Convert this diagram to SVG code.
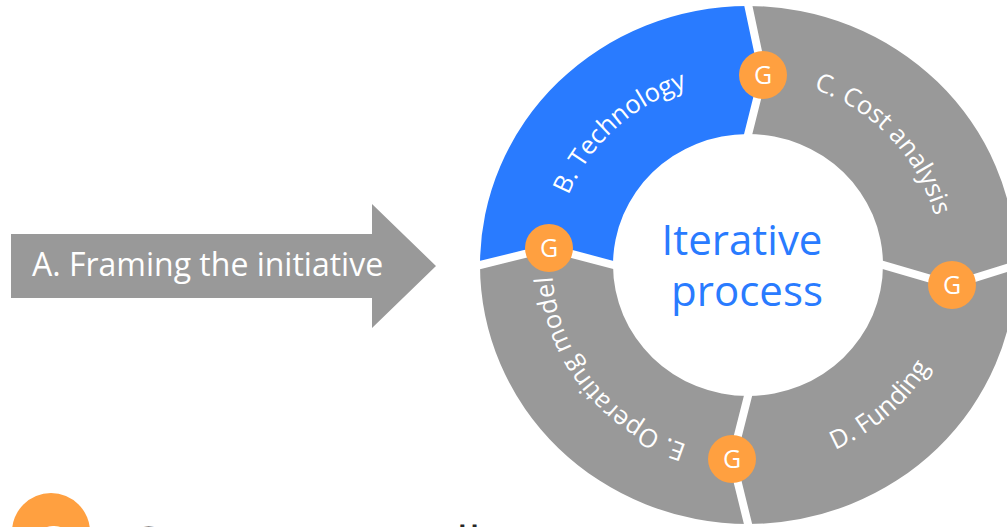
<svg xmlns="http://www.w3.org/2000/svg" width="1007" height="527" viewBox="0 0 1007 527">
<style>
.seg{stroke:none}
.blue{fill:#297BFF}
.gray{fill:#999999}
.div{fill:none;stroke:#FFFFFF;stroke-width:8;stroke-linejoin:miter}
.gc{fill:#FFA040}
.gt{fill:#FFFFFF;font-family:"Open Sans","Noto Sans",sans-serif;font-size:25px;text-anchor:middle}
.lbl{fill:#FFFFFF;font-family:"Open Sans","Noto Sans",sans-serif;font-size:25.5px;text-anchor:middle}
.ctr{fill:#297BFF;font-family:"Open Sans","Noto Sans",sans-serif;font-size:42px;text-anchor:middle}
</style>
<defs>
<path id="pB" d="M587.6,369.6 A193.5,187 0 0 1 861.7,113.7"/>
<path id="pC" d="M645.5,106.4 A193.5,187 0 0 1 900.5,380.1"/>
<path id="pE" d="M836.8,433.4 A195.6,189 0 0 1 604.9,136.1"/>
<path id="pD" d="M621.6,427.1 A210.1,203 0 0 0 924.2,154.4"/>
</defs>
<rect width="1007" height="527" fill="#FFFFFF"/>
<g id="nodeA">
<polygon points="11,234 372,234 372,204 436,266 372,328 372,298 11,298" fill="#999999"/>
<text x="32" y="276" fill="#FFFFFF" font-family="Open Sans, Noto Sans, sans-serif" font-size="32">A. Framing the initiative</text>
</g>
<g id="nodeB">
<path class="seg blue" d="M480,265 A268,259 0 0 1 748,6 L763,75 L748,134 A135,131 0 0 0 613,265 L549,248 Z"/>
<text class="lbl"><textPath href="#pB" startOffset="50%">B. Technology</textPath></text>
</g>
<g id="nodeC">
<path class="seg gray" d="M748,6 A268,259 0 0 1 1016,265 L952,285 L883,265 A135,131 0 0 0 748,134 L763,75 Z"/>
<text class="lbl"><textPath href="#pC" startOffset="50%">C. Cost analysis</textPath></text>
</g>
<g id="nodeD">
<path class="seg gray" d="M1016,265 A268,259 0 0 1 748,524 L732,459 L748,396 A135,131 0 0 0 883,265 L952,285 Z"/>
<text class="lbl"><textPath href="#pD" startOffset="50%">D. Funding</textPath></text>
</g>
<g id="nodeE">
<path class="seg gray" d="M748,524 A268,259 0 0 1 480,265 L549,248 L613,265 A135,131 0 0 0 748,396 L732,459 Z"/>
<text class="lbl"><textPath href="#pE" startOffset="50%">E. Operating model</textPath></text>
</g>
<g id="connectors">
<polyline class="div" points="746.7,-2 763,75 746.2,142"/>
<polyline class="div" points="1026,262 952,285 875,262.7"/>
<polyline class="div" points="750,532 732,459 750,388"/>
<polyline class="div" points="470,267.5 549,248 621,267"/>
</g>
<g id="nodeCenter">
<text class="ctr" x="742" y="255">Iterative</text>
<text class="ctr" x="747" y="306">process</text>
</g>
<g id="gates">
<g id="gate1"><circle class="gc" cx="763" cy="75" r="24"/><text class="gt" x="763" y="84">G</text></g>
<g id="gate2"><circle class="gc" cx="952" cy="285" r="24"/><text class="gt" x="952" y="294">G</text></g>
<g id="gate3"><circle class="gc" cx="732" cy="459" r="24"/><text class="gt" x="732" y="468">G</text></g>
<g id="gate4"><circle class="gc" cx="549" cy="248" r="24"/><text class="gt" x="549" y="257">G</text></g>
</g>
<g id="legend">
<circle class="gc" cx="51" cy="532" r="39"/>
<text x="51" y="555" fill="#FFFFFF" font-family="Open Sans, Noto Sans, sans-serif" font-size="40" text-anchor="middle">G</text>
<text x="128" y="561" fill="#262626" font-family="Open Sans, Noto Sans, sans-serif" font-size="48">Governance tollgate</text>
</g>
</svg>
